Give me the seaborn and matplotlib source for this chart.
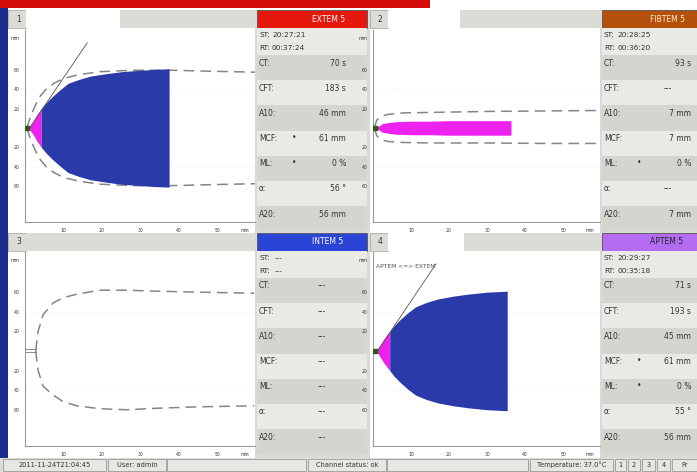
import matplotlib
matplotlib.use("Agg")
import matplotlib.pyplot as plt
from matplotlib.patches import Rectangle
import seaborn as sns

W, H = 697, 472

# ---- traces (time in min, amplitude in mm) ----
extem_t = [1.17, 2.0, 3.0, 4.22, 5.5, 7.0, 9.0, 11.17, 14.0, 17.0, 21.17, 25.0, 30.0, 34.0, 37.4]
extem_amp = [2, 6, 13, 20, 26, 32, 39, 46, 50, 53.5, 56, 58, 59.5, 60.5, 61]
extem_cft_end = 4.22
extem_ref_t = [0.5, 1.2, 2.1, 3.0, 4.0, 5.5, 7.5, 10, 14, 19.5, 28, 38, 48, 60]
extem_ref_amp = [0, 9, 18, 26, 33, 40, 46, 51, 55, 58, 59.5, 59.5, 58.5, 57.5]
extem_alpha = ([1.17, 16.2], [0, 88])

fibtem_t = [0.3, 1.55, 2.5, 4.0, 6.0, 10, 15, 20, 25, 30, 36.3]
fibtem_amp = [1, 2, 4.5, 5.5, 6.5, 7, 7, 7.5, 7.5, 7.5, 7.5]
fibtem_cft_end = 99
fibtem_ref_t = [0.3, 1.0, 2.0, 4.0, 8.0, 15, 30, 45, 59]
fibtem_ref_up = [0, 8, 12, 14, 15.5, 16, 17, 17.5, 18]
fibtem_ref_lo = [0, 8, 12, 14, 15, 15.5, 15.5, 16, 16]

intem_ref_t = [2.8, 3.0, 3.4, 4.7, 7.3, 10, 13.5, 19.5, 26.5, 34, 45, 59.5]
intem_ref_up = [0, 8, 20, 37, 49, 54.5, 58, 62, 62, 61, 60, 59]
intem_ref_lo = [0, 8, 20, 36, 45, 52, 56, 59, 60, 58.5, 57, 56]

aptem_t = [1.18, 2.0, 3.0, 4.4, 5.5, 7.0, 9.0, 11.18, 14, 17, 21.18, 25, 30, 35.3]
aptem_amp = [2, 7, 13, 20, 25.5, 31.5, 38.5, 45, 49.5, 53, 56, 58, 60, 61]
aptem_cft_end = 4.4
aptem_alpha = ([1.18, 16.6], [0, 89])

# ---- result panels ----
info_labels = ['CT:', 'CFT:', 'A10:', 'MCF:', 'ML:', 'α:', 'A20:']
extem_vals = ['70 s', '183 s', '46 mm', '61 mm', '0 %', '56 °', '56 mm']
extem_star = [0, 0, 0, 1, 1, 0, 0]
fibtem_vals = ['93 s', '---', '7 mm', '7 mm', '0 %', '---', '7 mm']
fibtem_star = [0, 0, 0, 0, 1, 0, 0]
intem_vals = ['---'] * 7
intem_star = [0] * 7
aptem_vals = ['71 s', '193 s', '45 mm', '61 mm', '0 %', '55 °', '56 mm']
aptem_star = [0, 0, 0, 1, 1, 0, 0]

sns.set_style("white")
plt.rcParams['font.family'] = ['DejaVu Sans']

fig = plt.figure(figsize=(W / 100, H / 100), dpi=100)
fig.patch.set_facecolor('#d9d9d5')


def rect(x0, y0, x1, y1, fc, ec='none', lw=0.6):
    fig.add_artist(Rectangle((x0 / W, 1 - y1 / H), (x1 - x0) / W, (y1 - y0) / H,
                             transform=fig.transFigure, fc=fc, ec=ec, lw=lw, zorder=-1))


def text(x, y, s, size=5.5, color='#333333', ha='left', **kw):
    fig.text(x / W, 1 - y / H, s, fontsize=size, color=color, ha=ha, va='center', **kw)


# top strip and left edge
rect(0, 0, W, 10, 'white')
rect(0, 0, 430, 8, '#d30b0b')
rect(0, 8, 8, 458, '#1c2b8c')


def header(x0, y0, num, white_end, x1):
    rect(x0, y0, x0 + 18, y0 + 18, '#dcdcd6', ec='#b0b0aa')
    text(x0 + 8, y0 + 9, num, size=5.5)
    if white_end:
        rect(x0 + 18, y0, white_end, y0 + 18, 'white')
        rect(white_end, y0, x1, y0 + 18, '#dcdcd6')
    else:
        rect(x0 + 18, y0, x1, y0 + 18, '#dcdcd6')


def info(x0, y0, w, name, hcol, tcol, st, rt, vals, stars, dash_x):
    rect(x0, y0, x0 + w, y0 + 18, hcol, ec='#555555')
    text(x0 + w / 2, y0 + 9, name, size=5.5, color=tcol)
    rect(x0, y0 + 18, x0 + w, y0 + 45, '#e9e9e5')
    text(x0 + 2, y0 + 25, 'ST:', size=5.3)
    text(x0 + 2, y0 + 38, 'RT:', size=5.3)
    if st == '---':
        text(x0 + 18, y0 + 25, '---', size=5.3)
        text(x0 + 18, y0 + 38, '---', size=5.3)
    else:
        text(x0 + 15, y0 + 25, st, size=5.3)
        text(x0 + 15, y0 + 38, rt, size=5.3)
    for i, lab in enumerate(info_labels):
        top = y0 + 45 + i * 25.2
        rect(x0, top, x0 + w, top + 25.2, '#d5d5d0' if i % 2 == 0 else '#e9e9e5')
        text(x0 + 2, top + 8, lab, size=5.5)
        if stars[i]:
            text(x0 + 35, top + 7, '•', size=5.5)
        v = vals[i]
        if v == '---':
            text(dash_x, top + 8, v, size=5.5, ha='center')
        else:
            text(x0 + 89, top + 8, v, size=5.5, ha='right')


def plot_area(px0, py0, px1, py1):
    ax = fig.add_axes([px0 / W, 1 - py1 / H, (px1 - px0) / W, (py1 - py0) / H])
    ax.set_zorder(5)
    ax.set_xlim(0, 59.7)
    ax.set_ylim(-97, 101)
    ax.set_facecolor('white')
    for s in ['top', 'right']:
        ax.spines[s].set_visible(False)
    for s in ['left', 'bottom']:
        ax.spines[s].set_color('#9a9a9a')
        ax.spines[s].set_linewidth(0.8)
    ax.set_xticks([10, 20, 30, 40, 50, 57])
    ax.set_xticklabels(['10', '20', '30', '40', '50', 'min'])
    ax.set_yticks([-60, -40, -20, 20, 40, 60, 93])
    ax.set_yticklabels(['60', '40', '20', '20', '40', '60', 'mm'])
    ax.tick_params(length=0, labelsize=3.3, pad=4, colors='#333333')
    for y in (40, -40):
        ax.axhline(y, color='#ececec', lw=0.6, ls=':', zorder=0.5)
    return ax


def trace(ax, t, amp, cft_end):
    n = sum(1 for x in t if x <= cft_end)
    up = list(amp)
    lo = [-a for a in amp]
    ax.fill_between(t[:n], lo[:n], up[:n], color='#ee22ee', lw=0, zorder=2)
    if n < len(t):
        ax.fill_between(t[n - 1:], lo[n - 1:], up[n - 1:], color='#2a3aa8', lw=0, zorder=2)
    ax.plot([0.5], [0], marker='s', ms=2.5, color='#2f5a12', zorder=3)


def ref(ax, t, up, lo):
    sns.lineplot(x=t, y=up, ax=ax, color='#858585', lw=1.1, linestyle=(0, (7, 4)))
    sns.lineplot(x=t, y=[-v for v in lo], ax=ax, color='#858585', lw=1.1, linestyle=(0, (7, 4)))


# white backgrounds behind the charts
rect(8, 28, 255, 233, 'white')
rect(370, 28, 600, 233, 'white')
rect(8, 251, 255, 458, 'white')
rect(370, 251, 600, 458, 'white')

header(8, 10, '1', 120, 255)
header(370, 10, '2', 460, 600)
header(8, 233, '3', None, 255)
header(370, 233, '4', 464, 600)

info(257, 10, 110, 'EXTEM 5', '#e6170d', 'white', '20:27:21', '00:37:24', extem_vals, extem_star, 322)
info(602, 10, 95, 'FIBTEM 5', '#b4500c', '#fff2c0', '20:28:25', '00:36:20', fibtem_vals, fibtem_star, 668)
info(257, 233, 110, 'INTEM 5', '#2a44d6', 'white', '---', '---', intem_vals, intem_star, 322)
info(602, 233, 95, 'APTEM 5', '#b46cf0', '#222222', '20:29:27', '00:35:18', aptem_vals, aptem_star, 668)

# chart 1 - EXTEM
ax1 = plot_area(25, 30, 255, 222)
ref(ax1, extem_ref_t, extem_ref_amp, extem_ref_amp)
trace(ax1, extem_t, extem_amp, extem_cft_end)
sns.lineplot(x=extem_alpha[0], y=extem_alpha[1], ax=ax1, color='#555555', lw=0.6)

# chart 2 - FIBTEM
ax2 = plot_area(373, 30, 600, 222)
ref(ax2, fibtem_ref_t, fibtem_ref_up, fibtem_ref_lo)
trace(ax2, fibtem_t, fibtem_amp, fibtem_cft_end)

# chart 3 - INTEM (no trace yet)
ax3 = plot_area(25, 252, 255, 446)
ref(ax3, intem_ref_t, intem_ref_up, intem_ref_lo)
ax3.plot([0, 2.8], [1.5, 1.5], color='#777777', lw=0.6)
ax3.plot([0, 2.8], [-1.5, -1.5], color='#777777', lw=0.6)

# chart 4 - APTEM
ax4 = plot_area(373, 252, 600, 446)
trace(ax4, aptem_t, aptem_amp, aptem_cft_end)
sns.lineplot(x=aptem_alpha[0], y=aptem_alpha[1], ax=ax4, color='#555555', lw=0.6)
ax4.text(0.8, 86, 'APTEM <=> EXTEM', fontsize=4.3, color='#555555', va='center')

for ax in (ax1, ax2, ax3, ax4):
    ax.set_xlabel('')
    ax.set_ylabel('')

# status bar
rect(0, 458, W, H, '#dcdcd8')
boxes = [(3, 106, '2011-11-24T21:04:45'), (108, 166, 'User: admin'), (167, 306, ''),
         (308, 386, 'Channel status: ok'), (387, 528, ''), (530, 613, 'Temperature: 37.0°C'),
         (615, 626, '1'), (628, 640, '2'), (642, 655, '3'), (657, 670, '4'), (672, 697, 'Pr')]
for x0, x1, s in boxes:
    rect(x0, 459, x1, 471, '#e6e6e2', ec='#9a9a96')
    if s:
        text((x0 + x1) / 2, 465, s, size=4.8, ha='center')

fig.savefig('out.png', dpi=100, facecolor=fig.get_facecolor())
